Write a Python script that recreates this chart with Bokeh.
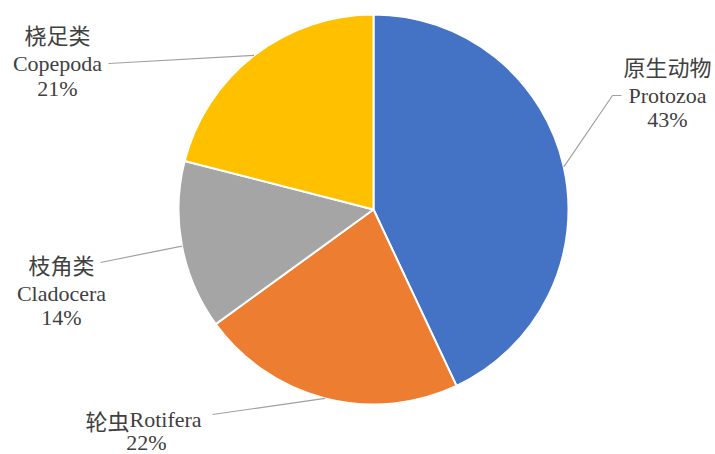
import numpy as np
from bokeh.plotting import figure
from bokeh.models import Range1d, ColumnDataSource
from bokeh.core.properties import value
from bokeh.embed import file_html
from bokeh.resources import INLINE

# ---- data ----
names_cn = ["原生动物", "轮虫", "枝角类", "桡足类"]
names_en = ["Protozoa", "Rotifera", "Cladocera", "Copepoda"]
shares = [43, 22, 14, 21]
colors = ["#4472C4", "#ED7D31", "#A5A5A5", "#FFC000"]

# ---- layout (screen pixel coordinates, y down) ----
W, H = 715, 454
CX, CY, R = 373, 209, 195
# label positions: center x and baselines of (cn, en, pct)
label_pos = [
    (667, [65, 95, 119]),
    (146, [419, 419, 442]),
    (61, [263, 293, 317]),
    (57, [33, 63, 88]),
]
JOIN_X = 129  # junction of cn/en text when on one line
leader_ends = [
    [(612, 95), (621, 95)],
    [(212, 414)],
    [(100, 262)],
    [(108, 63)],
]

p = figure(width=W, height=H, x_range=Range1d(0, W), y_range=Range1d(-H, 0),
           output_backend="svg", toolbar_location=None, min_border=0,
           x_axis_type=None, y_axis_type=None)
p.grid.visible = False
p.outline_line_color = None
p.background_fill_color = "white"
p.border_fill_color = "white"

frac = np.array(shares, dtype=float) / np.sum(shares)
cum = np.concatenate([[0], np.cumsum(frac)])
start = np.pi / 2 - 2 * np.pi * cum[:-1]
end = np.pi / 2 - 2 * np.pi * cum[1:]
mid = (start + end) / 2

src = ColumnDataSource(dict(start=start, end=end, color=colors))
p.wedge(x=CX, y=-CY, radius=R, start_angle="start", end_angle="end", direction="clock",
        fill_color="color", line_color="white", line_width=2, source=src)

# leader lines
xs, ys = [], []
for i in range(len(shares)):
    ex = CX + R * np.cos(mid[i])
    ey = -CY + R * np.sin(mid[i])
    xs.append([ex] + [pt[0] for pt in leader_ends[i]])
    ys.append([ey] + [-pt[1] for pt in leader_ends[i]])
p.multi_line(xs=xs, ys=ys, line_color="#A0A0A0", line_width=1.2)

TXT = "#404040"
cn_x, cn_y, cn_t, cn_al = [], [], [], []
en_x, en_y, en_t, en_al = [], [], [], []
for i in range(len(shares)):
    cx, (bcn, ben, bpc) = label_pos[i]
    if bcn == ben:
        cn_x.append(JOIN_X); cn_y.append(-bcn); cn_t.append(names_cn[i]); cn_al.append("right")
        en_x.append(JOIN_X); en_y.append(-ben); en_t.append(names_en[i]); en_al.append("left")
    else:
        cn_x.append(cx); cn_y.append(-bcn); cn_t.append(names_cn[i]); cn_al.append("center")
        en_x.append(cx); en_y.append(-ben); en_t.append(names_en[i]); en_al.append("center")
    en_x.append(cx); en_y.append(-bpc); en_t.append(f"{shares[i]}%"); en_al.append("center")

p.text(x="x", y="y", text="t", text_align="al",
       source=ColumnDataSource(dict(x=cn_x, y=cn_y, t=cn_t, al=cn_al)),
       text_baseline="alphabetic", text_font=value("Noto Sans CJK SC"),
       text_font_size="22px", text_color=TXT)
p.text(x="x", y="y", text="t", text_align="al",
       source=ColumnDataSource(dict(x=en_x, y=en_y, t=en_t, al=en_al)),
       text_baseline="alphabetic", text_font=value("Liberation Serif"),
       text_font_size="22px", text_color=TXT)

open("out.html", "w").write(file_html(p, INLINE))
